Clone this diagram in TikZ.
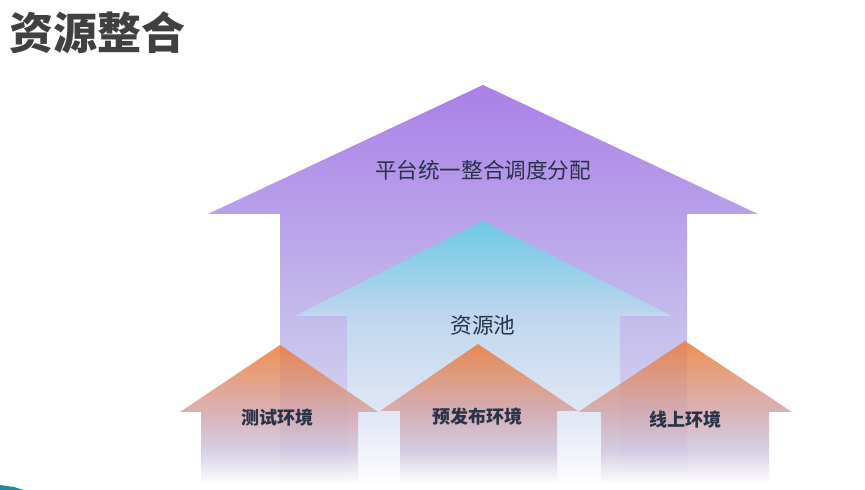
\documentclass[tikz,border=0pt]{standalone}
\usepackage{fontspec}
\newfontfamily\cjk{Noto Sans CJK SC}
\usepackage{tikz}
\usetikzlibrary{positioning}

\definecolor{titlegray}{RGB}{64,64,64}
\definecolor{labelnavy}{RGB}{40,50,72}
\definecolor{cornerteal}{RGB}{26,140,168}

%% vertical fades (25bp = bottom, 75bp = top of the path)
\pgfdeclareverticalshading{purplefade}{100bp}{
    rgb(0bp)=(0.992,0.992,1);
    rgb(25bp)=(0.992,0.992,1);
    rgb(31.7bp)=(0.835,0.839,0.945);
    rgb(44.2bp)=(0.776,0.745,0.922);
    rgb(58.8bp)=(0.722,0.627,0.918);
    rgb(75bp)=(0.667,0.502,0.910);
    rgb(100bp)=(0.667,0.502,0.910)}
\pgfdeclareverticalshading{bluefade}{100bp}{
    rgb(0bp)=(0.996,0.996,1);
    rgb(25bp)=(0.996,0.996,1);
    rgb(37bp)=(0.890,0.910,0.965);
    rgb(56.9bp)=(0.745,0.843,0.933);
    rgb(75bp)=(0.431,0.784,0.894);
    rgb(100bp)=(0.431,0.784,0.894)}
\pgfdeclareverticalshading{orangefade}{100bp}{
    rgb(0bp)=(0.992,0.992,1);
    rgb(25bp)=(0.992,0.992,1);
    rgb(36.8bp)=(0.812,0.776,0.871);
    rgb(50.4bp)=(0.824,0.647,0.667);
    rgb(75bp)=(0.929,0.490,0.216);
    rgb(100bp)=(0.929,0.490,0.216)}

\begin{document}
\begin{tikzpicture}[
    x=0.5pt, y=-0.5pt,
    font=\cjk,
    toparrow/.style={shading=purplefade},
    poolarrow/.style={shading=bluefade},
    envarrow/.style={shading=orangefade, fill opacity=0.85},
    label/.style={text=labelnavy, font=\cjk\fontsize{10.8}{12}\selectfont},
    envlabel/.style={text=labelnavy, font=\cjk\bfseries\fontsize{9}{10}\selectfont}
]
    \useasboundingbox (0,0) rectangle (865,490);

    %% Title
    \node[anchor=west, inner sep=0pt, text=titlegray, font=\cjk\bfseries\fontsize{22}{24}\selectfont] (title) at (9,33) {资源整合};

    %% Top arrow
    \shade[toparrow] (483,85) -- (758,214) -- (687,214) -- (687,483) -- (280,483)
        -- (280,214) -- (208,214) -- cycle;
    %% Resource pool arrow
    \shade[poolarrow] (483,221) -- (672,316) -- (620,316) -- (620,483) -- (347,483)
        -- (347,316) -- (295,316) -- cycle;
    %% Environment arrows
    \shade[envarrow] (280,345) -- (378,412) -- (358,412) -- (358,483) -- (201,483)
        -- (201,412) -- (180,412) -- cycle;
    \shade[envarrow] (478,344) -- (578,411) -- (557,411) -- (557,483) -- (400,483)
        -- (400,411) -- (380,411) -- cycle;
    \shade[envarrow] (685,341) -- (792,412) -- (769,412) -- (769,483) -- (601,483)
        -- (601,412) -- (578,412) -- cycle;

    %% Labels
    \node[label] (platform) at (483,170) {平台统一整合调度分配};
    \node[label] (pool) at (483,325) {资源池};
    \node[envlabel] (test) at (277,418) {测试环境};
    \node[envlabel] (staging) at (477,417) {预发布环境};
    \node[envlabel] (online) at (685,420) {线上环境};

    %% Corner
    \fill[cornerteal] (0,485) -- (14,487) -- (24,490) -- (0,490) -- cycle;
\end{tikzpicture}
\end{document}
